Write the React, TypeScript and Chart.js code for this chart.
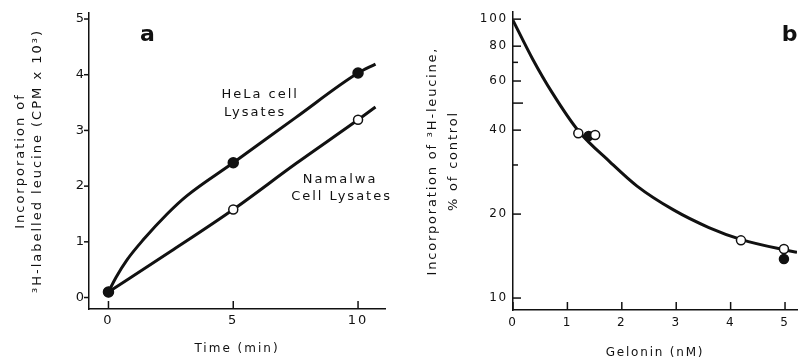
import React, { useEffect, useRef } from 'react';
import { Chart, registerables } from 'chart.js';

Chart.register(...registerables);

// ---------- Panel a data ----------
const timeMin = [0, 5, 10];
const helaCpm = [0.1, 2.42, 4.03];
const namalwaCpm = [0.1, 1.58, 3.19];
const helaCurveX = [0, 0.3, 0.75, 1.4, 2.35, 3.15, 5, 7.5, 10, 10.7];
const helaCurveY = [0.1, 0.36, 0.68, 1.04, 1.5, 1.83, 2.42, 3.23, 4.03, 4.19];
const namalwaCurveX = [0, 2.5, 5, 7.5, 10, 10.7];
const namalwaCurveY = [0.1, 0.83, 1.58, 2.4, 3.19, 3.42];
const timeTicks = [0, 5, 10];
const cpmTicks = [0, 1, 2, 3, 4, 5];
const labelTextsA = ['HeLa cell', 'Lysates', 'Namalwa', 'Cell Lysates'];
const labelXA = [6.08, 5.88, 9.28, 9.34];
const labelYA = [3.64, 3.32, 2.11, 1.81];

// ---------- Panel b data ----------
const gelOpenX = [1.2, 1.51, 4.19, 4.98];
const gelOpenY = [39.0, 38.4, 16.1, 15.0];
const gelFilledX = [1.39, 4.98];
const gelFilledY = [38.1, 13.8];
const gelCurveX = [0, 0.36, 0.72, 1.2, 1.78, 2.28, 2.95, 3.6, 4.2, 4.98, 5.22];
const gelCurveY = [99, 72, 54.5, 39.8, 30.8, 25.2, 20.7, 17.9, 16.2, 14.9, 14.6];
const gelTicks = [0, 1, 2, 3, 4, 5];
const pctTicks = [10, 20, 30, 40, 50, 60, 70, 80, 100];
const pctLabelled = [10, 20, 40, 60, 80, 100];

const FONT = '"DejaVu Sans", "Liberation Sans", sans-serif';
const INK = '#111';

const pts = (xs: number[], ys: number[]) => xs.map((x, i) => ({ x, y: ys[i] }));

function spacingPlugin(spacing: string) {
  return {
    id: 'letterSpacing',
    beforeDraw(chart: any) {
      chart.ctx.letterSpacing = spacing;
    },
  };
}

function tickMarksPlugin(specs: { axis: string; values: number[]; dir: number; len: (v: number) => number }[]) {
  return {
    id: 'tickMarks',
    afterDatasetsDraw(chart: any) {
      const ctx = chart.ctx;
      ctx.save();
      ctx.strokeStyle = INK;
      ctx.lineWidth = 1.5;
      for (const spec of specs) {
        const scale = chart.scales[spec.axis];
        for (const v of spec.values) {
          const p = scale.getPixelForValue(v);
          const len = spec.len(v);
          ctx.beginPath();
          if (scale.isHorizontal()) {
            const y = scale.top;
            ctx.moveTo(p, y);
            ctx.lineTo(p, y + spec.dir * len);
          } else {
            const x = scale.right;
            ctx.moveTo(x, p);
            ctx.lineTo(x + spec.dir * len, p);
          }
          ctx.stroke();
        }
      }
      ctx.restore();
    },
  };
}

function textPlugin(items: { text: string; x: number; y: number; font: string }[]) {
  return {
    id: 'textLabels',
    afterDraw(chart: any) {
      const ctx = chart.ctx;
      ctx.save();
      ctx.fillStyle = INK;
      ctx.textAlign = 'center';
      ctx.textBaseline = 'middle';
      for (const it of items) {
        ctx.font = it.font;
        const px = chart.scales.x.getPixelForValue(it.x);
        const py = chart.scales.y.getPixelForValue(it.y);
        ctx.fillText(it.text, px, py);
      }
      ctx.restore();
    },
  };
}

function configA(): any {
  return {
    type: 'line',
    data: {
      datasets: [
        {
          data: pts(timeMin, helaCpm),
          showLine: false,
          pointRadius: 5,
          pointBackgroundColor: INK,
          pointBorderColor: INK,
          pointBorderWidth: 1.5,
          order: 0,
        },
        {
          data: pts(timeMin, namalwaCpm),
          showLine: false,
          pointRadius: 4.5,
          pointBackgroundColor: '#fff',
          pointBorderColor: INK,
          pointBorderWidth: 1.5,
          order: 1,
        },
        {
          data: pts(helaCurveX, helaCurveY),
          borderColor: INK,
          borderWidth: 3,
          pointRadius: 0,
          cubicInterpolationMode: 'monotone',
          order: 2,
        },
        {
          data: pts(namalwaCurveX, namalwaCurveY),
          borderColor: INK,
          borderWidth: 3,
          pointRadius: 0,
          cubicInterpolationMode: 'monotone',
          order: 2,
        },
      ],
    },
    options: {
      animation: false,
      responsive: false,
      devicePixelRatio: 1,
      layout: { padding: { left: 0, top: 13, right: 15, bottom: 0 } },
      plugins: { legend: { display: false }, tooltip: { enabled: false } },
      scales: {
        x: {
          type: 'linear',
          min: -0.78,
          max: 11.08,
          afterBuildTicks: (s: any) => {
            s.ticks = timeTicks.map((v) => ({ value: v }));
          },
          afterFit: (s: any) => {
            s.height = 51;
          },
          grid: { display: true, drawOnChartArea: false, drawTicks: false },
          border: { display: true, color: INK, width: 1.5 },
          ticks: { color: INK, font: { family: FONT, size: 13 }, padding: 4, autoSkip: false, maxRotation: 0 },
          title: {
            display: true,
            text: 'Time (min)',
            color: INK,
            font: { family: FONT, size: 12, lineHeight: 1.2 },
            padding: { top: 0, bottom: 4 },
          },
        },
        y: {
          type: 'linear',
          min: -0.206,
          max: 5.108,
          afterBuildTicks: (s: any) => {
            s.ticks = cpmTicks.map((v) => ({ value: v }));
          },
          afterFit: (s: any) => {
            s.width = 89;
          },
          grid: { display: true, drawOnChartArea: false, drawTicks: false },
          border: { display: true, color: INK, width: 1.5 },
          ticks: { color: INK, font: { family: FONT, size: 13 }, padding: 3, autoSkip: false },
          title: {
            display: true,
            text: ['Incorporation of', '³H-labelled leucine (CPM x 10³)'],
            color: INK,
            font: { family: FONT, size: 13, lineHeight: 1.3 },
            padding: { top: 12, bottom: 0 },
          },
        },
      },
    },
    plugins: [
      spacingPlugin('2px'),
      tickMarksPlugin([
        { axis: 'x', values: timeTicks, dir: -1, len: () => 8 },
        { axis: 'y', values: cpmTicks, dir: -1, len: () => 5 },
      ]),
      textPlugin([
        { text: 'a', x: 1.6, y: 4.71, font: `bold 22px ${FONT}` },
        ...labelTextsA.map((t, i) => ({ text: t, x: labelXA[i], y: labelYA[i], font: `13px ${FONT}` })),
      ]),
    ],
  };
}

function configB(): any {
  return {
    type: 'line',
    data: {
      datasets: [
        {
          data: pts(gelOpenX, gelOpenY),
          showLine: false,
          pointRadius: 4.5,
          pointBackgroundColor: '#fff',
          pointBorderColor: INK,
          pointBorderWidth: 1.5,
          order: 0,
        },
        {
          data: pts(gelFilledX, gelFilledY),
          showLine: false,
          pointRadius: 4.5,
          pointBackgroundColor: INK,
          pointBorderColor: INK,
          pointBorderWidth: 1.5,
          order: 1,
        },
        {
          data: pts(gelCurveX, gelCurveY),
          borderColor: INK,
          borderWidth: 3,
          pointRadius: 0,
          cubicInterpolationMode: 'monotone',
          order: 2,
        },
      ],
    },
    options: {
      animation: false,
      responsive: false,
      devicePixelRatio: 1,
      layout: { padding: { left: 0, top: 12, right: 0, bottom: 0 } },
      plugins: { legend: { display: false }, tooltip: { enabled: false } },
      scales: {
        x: {
          type: 'linear',
          min: 0,
          max: 5.22,
          afterBuildTicks: (s: any) => {
            s.ticks = gelTicks.map((v) => ({ value: v }));
          },
          afterFit: (s: any) => {
            s.height = 50;
          },
          grid: { display: true, drawOnChartArea: false, drawTicks: false },
          border: { display: true, color: INK, width: 1.5 },
          ticks: { color: INK, font: { family: FONT, size: 12 }, padding: 6, autoSkip: false, maxRotation: 0 },
          title: {
            display: true,
            text: 'Gelonin (nM)',
            color: INK,
            font: { family: FONT, size: 12, lineHeight: 1.2 },
            padding: { top: 0, bottom: 0 },
          },
        },
        y: {
          type: 'logarithmic',
          min: 9.06,
          max: 105.9,
          afterBuildTicks: (s: any) => {
            s.ticks = pctTicks.map((v) => ({ value: v }));
          },
          afterFit: (s: any) => {
            s.width = 113;
          },
          grid: { display: true, drawOnChartArea: false, drawTicks: false },
          border: { display: true, color: INK, width: 1.5 },
          ticks: {
            color: INK,
            font: { family: FONT, size: 12 },
            padding: 5,
            autoSkip: false,
            callback: (v: any) => (pctLabelled.includes(Number(v)) ? String(v) : ''),
          },
          title: {
            display: true,
            text: ['Incorporation of ³H-leucine,', '% of control'],
            color: INK,
            font: { family: FONT, size: 13, lineHeight: 1.55 },
            padding: { top: 23, bottom: 0 },
          },
        },
      },
    },
    plugins: [
      spacingPlugin('1.8px'),
      tickMarksPlugin([
        { axis: 'x', values: gelTicks, dir: -1, len: () => 8 },
        {
          axis: 'y',
          values: pctTicks,
          dir: 1,
          len: (v: number) => (v === 50 ? 10 : v === 30 || v === 70 ? 5 : 8),
        },
      ]),
      textPlugin([{ text: 'b', x: 5.1, y: 87.6, font: `bold 22px ${FONT}` }]),
    ],
  };
}

export default function App() {
  const refA = useRef<HTMLCanvasElement>(null);
  const refB = useRef<HTMLCanvasElement>(null);

  useEffect(() => {
    const a = new Chart(refA.current as HTMLCanvasElement, configA());
    const b = new Chart(refB.current as HTMLCanvasElement, configB());
    return () => {
      a.destroy();
      b.destroy();
    };
  }, []);

  return (
    <div style={{ position: 'fixed', left: 0, top: 0, width: 803, height: 360, background: '#fff' }}>
      <canvas ref={refA} width={400} height={360} style={{ position: 'absolute', left: 0, top: 0 }} />
      <canvas ref={refB} width={403} height={360} style={{ position: 'absolute', left: 400, top: 0 }} />
    </div>
  );
}
